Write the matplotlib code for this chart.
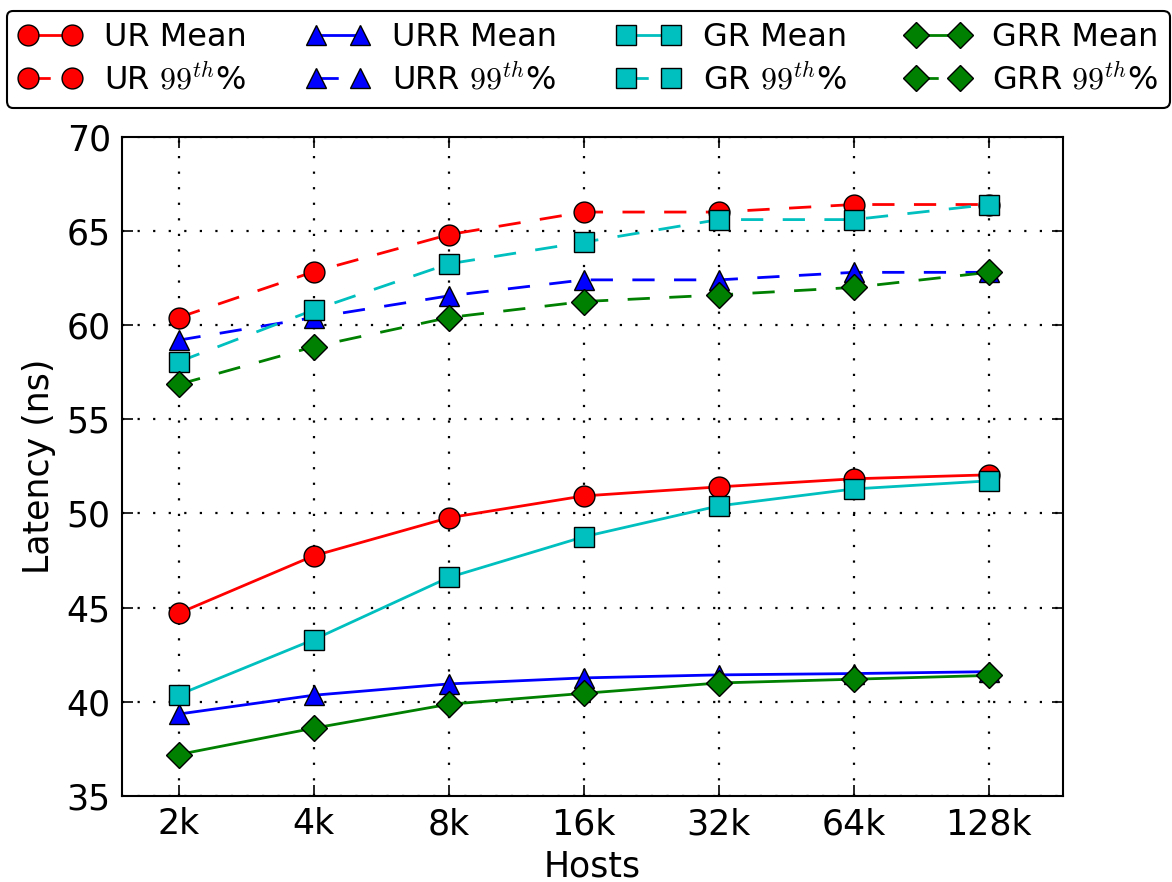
import matplotlib
matplotlib.use("Agg")
import matplotlib.pyplot as plt
import numpy as np

plt.rcParams['mathtext.fontset'] = 'cm'

hosts = ['2k', '4k', '8k', '16k', '32k', '64k', '128k']

ur_mean = [44.7, 47.75, 49.77, 50.93, 51.41, 51.84, 52.05]
ur_99 = [60.4, 62.83, 64.8, 66.0, 66.0, 66.4, 66.4]
urr_mean = [39.35, 40.35, 40.95, 41.27, 41.43, 41.5, 41.6]
urr_99 = [59.2, 60.4, 61.55, 62.4, 62.4, 62.8, 62.8]
gr_mean = [40.37, 43.3, 46.6, 48.76, 50.4, 51.3, 51.73]
gr_99 = [58.05, 60.8, 63.25, 64.4, 65.6, 65.6, 66.4]
grr_mean = [37.2, 38.6, 39.87, 40.45, 41.0, 41.2, 41.4]
grr_99 = [56.85, 58.85, 60.4, 61.25, 61.6, 62.0, 62.8]

series = [
    ('UR Mean', ur_mean, 'r', 'o', '-'),
    ('UR $99^{th}$%', ur_99, 'r', 'o', '--'),
    ('URR Mean', urr_mean, 'b', '^', '-'),
    ('URR $99^{th}$%', urr_99, 'b', '^', '--'),
    ('GR Mean', gr_mean, 'c', 's', '-'),
    ('GR $99^{th}$%', gr_99, 'c', 's', '--'),
    ('GRR Mean', grr_mean, 'g', 'D', '-'),
    ('GRR $99^{th}$%', grr_99, 'g', 'D', '--'),
]

fig = plt.figure(figsize=(11.72, 8.82), dpi=100)
ax = fig.add_axes([0.104, 0.0975, 0.803, 0.7475])

x = np.arange(len(hosts))
for label, vals, color, marker, ls in series:
    ms = 15 if marker != 'D' else 13
    line, = ax.plot(x, vals, color=color, linestyle=ls, marker=marker,
                    markersize=ms, linewidth=2, markeredgecolor='black',
                    markeredgewidth=1, label=label)
    if ls == '--':
        line.set_dashes((8, 7))

ax.set_xlim(-0.42, 6.55)
ax.set_ylim(35, 70)
ax.set_xticks(x)
ax.set_xticklabels(hosts)
ax.set_yticks(np.arange(35, 71, 5))
ax.tick_params(axis='both', direction='in', length=8, width=1.2,
               labelsize=25, top=True, right=True, pad=8)
ax.grid(True, color='black', linestyle=(0, (1, 6)), linewidth=1.6)
for sp in ax.spines.values():
    sp.set_linewidth(1.5)

ax.set_xlabel('Hosts', fontsize=25, labelpad=6)
ax.set_ylabel('Latency (ns)', fontsize=25, labelpad=8)

handles, labels = ax.get_legend_handles_labels()
leg = fig.legend(handles, labels, loc='upper center', ncol=4,
                 bbox_to_anchor=(0.502, 0.995), fontsize=23, numpoints=2,
                 handlelength=2.0, columnspacing=1.85, handletextpad=0.7,
                 borderpad=0.35, labelspacing=0.35, borderaxespad=0.2,
                 fancybox=True, edgecolor='black', framealpha=1)
leg.get_frame().set_linewidth(1.5)

fig.savefig('out.png', dpi=100)
